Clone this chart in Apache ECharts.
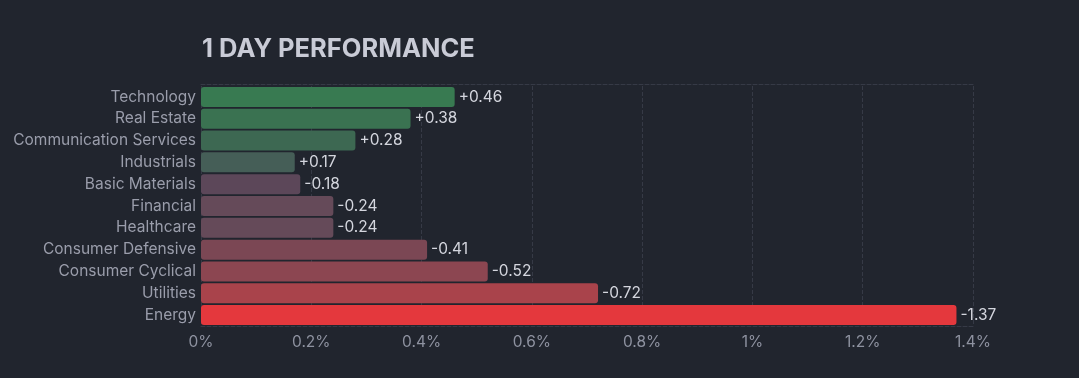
<!DOCTYPE html>
<html>
<head>
<meta charset="utf-8">
<script src="https://cdn.jsdelivr.net/npm/echarts@6/dist/echarts.min.js"></script>
<style>
html,body{margin:0;padding:0;background:#21252e;}
#chart{width:1079px;height:378px;}
</style>
</head>
<body>
<div id="chart"></div>
<script>
const categories = ["Technology","Real Estate","Communication Services","Industrials","Basic Materials","Financial","Healthcare","Consumer Defensive","Consumer Cyclical","Utilities","Energy"];
const changes = [0.46, 0.38, 0.28, 0.17, -0.18, -0.24, -0.24, -0.41, -0.52, -0.72, -1.37];
const barColors = ["#387a51","#3a7251","#3d6852","#455e57","#5c4759","#654a59","#654a59","#7b4754","#8c4651","#a9434b","#e4383d"];
const xTicks = [0, 0.2, 0.4, 0.6, 0.8, 1.0, 1.2, 1.4];

const chart = echarts.init(document.getElementById('chart'));
const font = 'Inter, "Noto Sans", sans-serif';
const gridColor = '#363a46';
chart.setOption({
  backgroundColor: '#21252e',
  animation: false,
  title: {
    text: '1 DAY PERFORMANCE',
    left: 197, top: 31,
    textStyle: {color: '#c9cbd6', fontSize: 25.5, fontWeight: 'bold', fontFamily: font}
  },
  grid: {left: 201, top: 86, width: 772, height: 240, containLabel: false},
  xAxis: [{
    type: 'value', min: xTicks[0], max: xTicks[xTicks.length-1], interval: 0.2,
    axisLine: {show: true, lineStyle: {color: gridColor, type: 'dashed'}},
    axisTick: {show: false},
    splitLine: {show: true, lineStyle: {color: gridColor, type: 'dashed'}},
    axisLabel: {color: '#8e92a0', fontSize: 15.5, fontFamily: font, margin: 8,
      formatter: v => (+v.toFixed(1)) + '%'}
  },{
    type: 'value', position: 'top', offset: 2, min: xTicks[0], max: xTicks[xTicks.length-1], interval: 0.2,
    axisLine: {show: true, lineStyle: {color: gridColor, type: 'dashed'}},
    axisTick: {show: false}, axisLabel: {show: false}, splitLine: {show: false}
  }],
  yAxis: {
    type: 'category', data: categories, inverse: true,
    axisLine: {show: false}, axisTick: {show: false},
    axisLabel: {color: '#9a9dab', fontSize: 15.5, fontFamily: font, margin: 5}
  },
  series: [{
    type: 'bar',
    data: changes.map((v, i) => ({value: Math.abs(v), itemStyle: {color: barColors[i]}})),
    barWidth: 20,
    itemStyle: {borderRadius: 3},
    label: {
      show: true, position: 'right', distance: 4,
      color: '#d4d6de', fontSize: 15.5, fontFamily: font,
      formatter: p => (changes[p.dataIndex] > 0 ? '+' : '') + changes[p.dataIndex].toFixed(2)
    }
  }]
});
</script>
</body>
</html>
